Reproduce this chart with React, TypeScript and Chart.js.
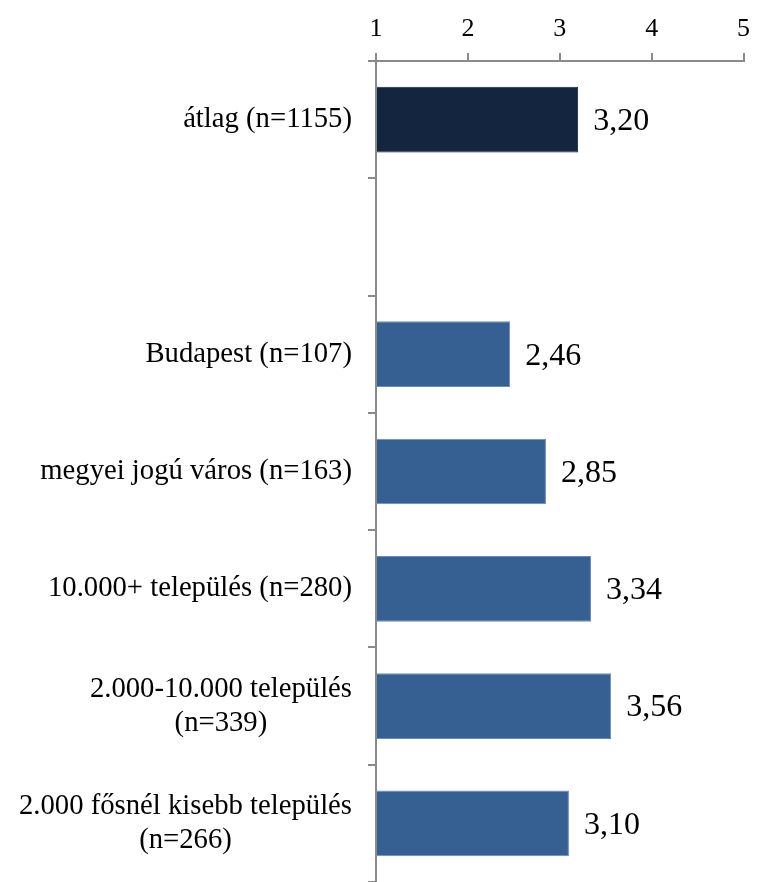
import React, { useEffect, useRef } from "react";
import { Chart, registerables } from "chart.js";

Chart.register(...registerables);

const categories: string[][] = [
  ["átlag (n=1155)"],
  [""],
  ["Budapest (n=107)"],
  ["megyei jogú város (n=163)"],
  ["10.000+ település (n=280)"],
  ["2.000-10.000 település", "(n=339)"],
  ["2.000 fősnél kisebb település", "(n=266)"],
];
const values: (number | null)[] = [3.2, null, 2.46, 2.85, 3.34, 3.56, 3.1];
const axisMin = 1;
const axisMax = 5;
const axisStep = 1;

const FONT = "'Liberation Serif', 'Times New Roman', serif";
const AXIS_GREY = "#8a8a8a";

const labelPlugin = {
  id: "customLabels",
  afterDraw(chart: any) {
    const ctx = chart.ctx;
    const yScale = chart.scales.y;
    const xScale = chart.scales.x;
    ctx.save();
    ctx.fillStyle = "#000";
    // category labels
    ctx.font = `28.7px ${FONT}`;
    ctx.textBaseline = "middle";
    ctx.textAlign = "center";
    const lineH = 34;
    const rightEdge = chart.chartArea.left - 24;
    categories.forEach((lines, i) => {
      const yc = yScale.getPixelForValue(i);
      const widths = lines.map((l) => ctx.measureText(l).width);
      const maxW = Math.max(...widths);
      const cx = rightEdge - maxW / 2;
      const startY = yc - ((lines.length - 1) * lineH) / 2;
      lines.forEach((l, k) => ctx.fillText(l, cx, startY + k * lineH));
    });
    // value labels
    ctx.font = `32px ${FONT}`;
    ctx.textAlign = "left";
    values.forEach((v, i) => {
      if (v === null) return;
      const x = xScale.getPixelForValue(v) + 15;
      const y = yScale.getPixelForValue(i) + 2;
      ctx.fillText(v.toFixed(2).replace(".", ","), x, y);
    });
    ctx.restore();
  },
};

export default function App() {
  const ref = useRef<HTMLCanvasElement>(null);
  useEffect(() => {
    document.body.style.margin = "0";
    const chart = new Chart(ref.current!, {
      type: "bar",
      data: {
        labels: categories.map((c) => c.join(" ")),
        datasets: [
          {
            data: values,
            base: axisMin,
            backgroundColor: values.map((_, i) => (i === 0 ? "#14263F" : "#376092")),
            borderColor: values.map((_, i) => (i === 0 ? "#14263F" : "#6b8cba")),
            borderWidth: 1,
            barPercentage: 0.56,
            categoryPercentage: 1,
          } as any,
        ],
      },
      options: {
        indexAxis: "y",
        responsive: false,
        animation: false,
        layout: { padding: { left: 0, right: 12, top: 0, bottom: 0 } },
        plugins: { legend: { display: false }, tooltip: { enabled: false } },
        scales: {
          x: {
            position: "top",
            min: axisMin,
            max: axisMax,
            ticks: {
              stepSize: axisStep,
              color: "#000",
              font: { family: FONT, size: 26 },
              padding: 8,
              maxRotation: 0,
            },
            grid: {
              drawOnChartArea: false,
              drawTicks: true,
              tickLength: 8,
              color: AXIS_GREY,
              lineWidth: 2,
            },
            border: { color: AXIS_GREY, width: 2 },
            afterFit(scale: any) {
              scale.height = 61;
            },
          },
          y: {
            ticks: { display: false },
            grid: {
              offset: true,
              drawOnChartArea: false,
              drawTicks: true,
              tickLength: 8,
              color: AXIS_GREY,
              lineWidth: 2,
            },
            border: { color: AXIS_GREY, width: 2 },
            afterFit(scale: any) {
              scale.width = 376;
            },
          },
        },
      } as any,
      plugins: [labelPlugin],
    });
    return () => chart.destroy();
  }, []);
  return (
    <div style={{ width: 758, height: 882 }}>
      <canvas ref={ref} width={758} height={882} style={{ display: "block" }} />
    </div>
  );
}
